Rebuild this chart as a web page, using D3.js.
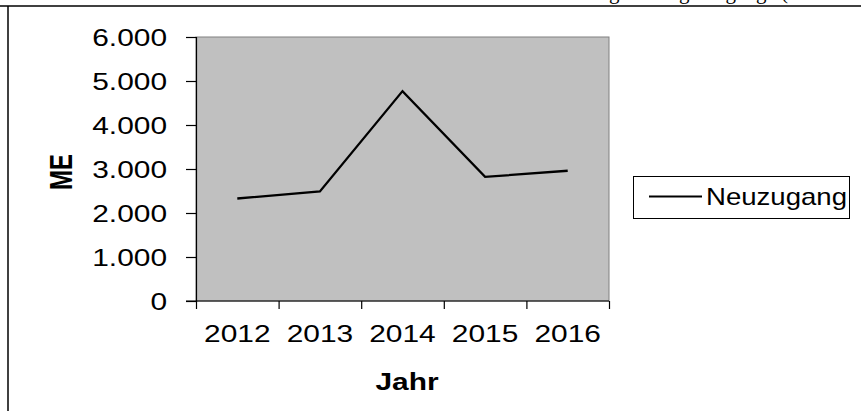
<!DOCTYPE html>
<html>
<head>
<meta charset="utf-8">
<script src="https://cdn.jsdelivr.net/npm/d3@7/dist/d3.min.js"></script>
<style>
  html, body { margin: 0; padding: 0; background: #fff; }
  svg { display: block; }
  text { font-family: "Liberation Sans", Arial, sans-serif; fill: #000; }
</style>
</head>
<body>
<svg id="chart" width="861" height="411"></svg>
<script>
// ---- data ----
const years = ["2012", "2013", "2014", "2015", "2016"];
const neuzugang = [2330, 2490, 4770, 2820, 2960];
const yTicks = [0, 1000, 2000, 3000, 4000, 5000, 6000];
const seriesName = "Neuzugang";
const xTitle = "Jahr";
const yTitle = "ME";
const topText = "Entwicklung der Lagerzugänge (Stückzahlen)";

// ---- layout ----
const W = 861, H = 411;
const plot = { left: 196, right: 609, top: 37, bottom: 301 };
const STRETCH = 1.3;
const FS = 23;

const svg = d3.select("#chart");
const deFormat = d3.formatLocale({ decimal: ",", thousands: ".", grouping: [3], currency: ["", " €"] }).format(",");

function stretch(sel) {
  sel.each(function () {
    const t = d3.select(this);
    const x = +t.attr("x") || 0;
    t.attr("transform", `translate(${x},0) scale(${STRETCH},1) translate(${-x},0)`);
  });
}

// cut-off document text above the frame (only descenders visible)
svg.append("text")
  .attr("x", 783).attr("y", -1.5)
  .attr("text-anchor", "start")
  .style("font-family", "'Liberation Serif', 'Times New Roman', serif")
  .style("font-size", "21px")
  .text(topText)
  .each(function () {
    const s = this.textContent;
    const idx = s.indexOf("(");
    const off = this.getSubStringLength(0, idx);
    d3.select(this).attr("x", 783 - off - 2);
  });

// outer frame (top and left)
svg.append("line").attr("x1", 0).attr("x2", W).attr("y1", 6).attr("y2", 6)
  .attr("stroke", "#000").attr("stroke-width", 1.5);
svg.append("line").attr("x1", 8).attr("x2", 8).attr("y1", 6).attr("y2", H)
  .attr("stroke", "#000").attr("stroke-width", 1.5);

// scales
const x = d3.scaleBand().domain(years).range([plot.left, plot.right]).padding(0);
const xEdge = d3.scaleLinear().domain([0, years.length]).range([plot.left, plot.right]);
const y = d3.scaleLinear().domain([0, 6000]).range([plot.bottom, plot.top]);

// plot area
svg.append("rect")
  .attr("x", plot.left).attr("y", plot.top)
  .attr("width", plot.right - plot.left).attr("height", plot.bottom - plot.top)
  .attr("fill", "#c0c0c0").attr("stroke", "#808080").attr("stroke-width", 1);

// y axis
const yAxis = svg.append("g")
  .attr("transform", `translate(${plot.left},0)`)
  .call(d3.axisLeft(y).tickValues(yTicks).tickSize(10).tickPadding(19).tickFormat(deFormat));
yAxis.select(".domain").attr("stroke", "#000").attr("stroke-width", 1.2);
yAxis.selectAll(".tick line").attr("stroke", "#000").attr("stroke-width", 1.2);
yAxis.selectAll(".tick text")
  .attr("font-family", null)
  .style("font-size", FS + "px").attr("dy", "0.37em").call(stretch);

// x axis: ticks at category edges
const xAxisEdges = svg.append("g")
  .attr("transform", `translate(0,${plot.bottom})`)
  .call(d3.axisBottom(xEdge).tickValues(d3.range(years.length + 1)).tickSize(8).tickFormat(""));
xAxisEdges.select(".domain").remove();
xAxisEdges.selectAll(".tick line").attr("stroke", "#000").attr("stroke-width", 1.2);
svg.append("line")
  .attr("x1", plot.left - 10).attr("x2", plot.right)
  .attr("y1", plot.bottom).attr("y2", plot.bottom)
  .attr("stroke", "#000").attr("stroke-width", 1.2);

// x axis labels at category centres
const xAxisLabels = svg.append("g")
  .attr("transform", `translate(0,${plot.bottom})`)
  .call(d3.axisBottom(x).tickSize(0).tickPadding(24.5));
xAxisLabels.select(".domain").remove();
xAxisLabels.selectAll(".tick text")
  .attr("font-family", null)
  .style("font-size", FS + "px").call(stretch);

// line
const line = d3.line()
  .x((d, i) => x(years[i]) + x.bandwidth() / 2)
  .y(d => y(d));
svg.append("path")
  .datum(neuzugang)
  .attr("d", line)
  .attr("fill", "none")
  .attr("stroke", "#000")
  .attr("stroke-width", 2.3)
  .attr("stroke-linejoin", "miter");

// axis titles
svg.append("text")
  .attr("transform", `translate(61,172) scale(${STRETCH},1) rotate(-90)`)
  .attr("text-anchor", "middle")
  .attr("dy", "0.36em")
  .style("font-size", "24px").style("font-weight", "bold")
  .text(yTitle);

svg.append("text")
  .attr("x", 407).attr("y", 390)
  .attr("text-anchor", "middle")
  .style("font-size", FS + "px").style("font-weight", "bold")
  .text(xTitle)
  .call(stretch);

// legend
const lg = svg.append("g");
lg.append("rect")
  .attr("x", 633.5).attr("y", 176.5).attr("width", 216).attr("height", 42)
  .attr("fill", "#fff").attr("stroke", "#000").attr("stroke-width", 1);
lg.append("line")
  .attr("x1", 649).attr("x2", 702).attr("y1", 196.5).attr("y2", 196.5)
  .attr("stroke", "#000").attr("stroke-width", 2);
lg.append("text")
  .attr("x", 706).attr("y", 205)
  .style("font-size", "24px")
  .attr("textLength", 141).attr("lengthAdjust", "spacingAndGlyphs")
  .text(seriesName);
</script>
</body>
</html>
